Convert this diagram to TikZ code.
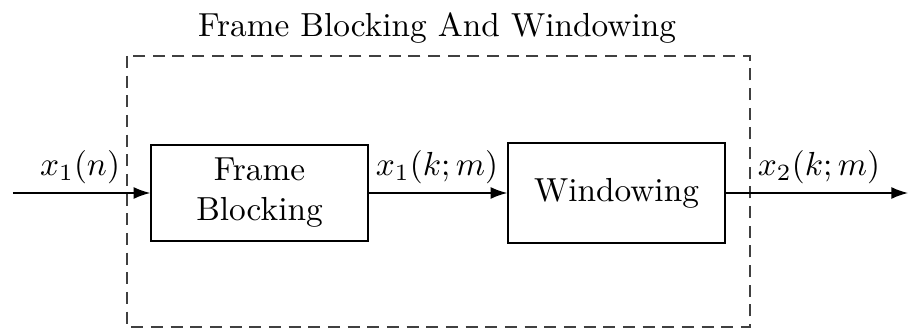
\documentclass[tikz,border=0pt]{standalone}
\usetikzlibrary{arrows.meta}
\begin{document}
\begin{tikzpicture}[x=0.3pt,y=-0.3pt,
  blockbox/.style={draw, line width=0.45pt, align=center, inner sep=0pt},
  sigline/.style={draw, line width=0.45pt, -{Latex[length=5pt,width=3.6pt]}},
  groupbox/.style={draw=black!75, line width=0.6pt, dash pattern=on 3.6pt off 2.3pt},
  lbl/.style={inner sep=0pt, anchor=south}]
\useasboundingbox (0,0) rectangle (908,331);
\draw[groupbox] (127,56) rectangle (750,327);
\node (title) at (437,28) {Frame Blocking And Windowing};
\node[blockbox, minimum width=65.1pt, minimum height=28.8pt] (fb) at (259.5,193) {Frame\\Blocking};
\node[blockbox, minimum width=65.1pt, minimum height=30pt] (win) at (616.5,193) {Windowing};
\coordinate (in) at (13,193);
\coordinate (out) at (908,193);
\draw[sigline] (in) -- (fb.west);
\draw[sigline] (fb.east) -- (win.west);
\draw[sigline] (win.east) -- (out);
\node[lbl] (l1) at (80,185) {$x_1(n)$};
\node[lbl] (l2) at (437,185) {$x_1(k;m)$};
\node[lbl] (l3) at (819,185) {$x_2(k;m)$};
\end{tikzpicture}
\end{document}
